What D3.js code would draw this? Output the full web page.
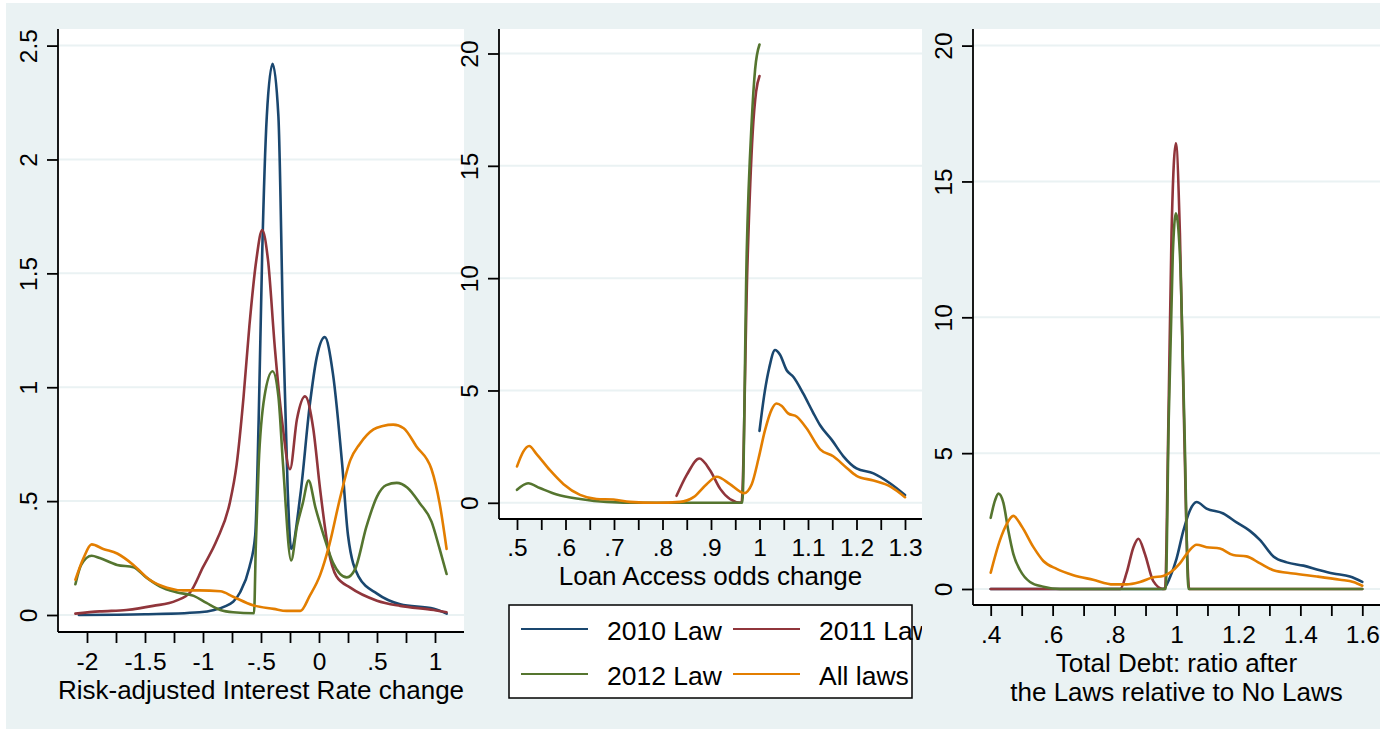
<!DOCTYPE html>
<html>
<head>
<meta charset="utf-8">
<script src="https://cdn.jsdelivr.net/npm/d3@7"></script>
<style>
  body { margin: 0; background: #fff; }
  svg { display: block; }
</style>
</head>
<body>
<script>
// legend / series
const seriesNames = ['2010 Law', '2011 Law', '2012 Law', 'All laws'];
const seriesColors = ['#1a476f', '#90353b', '#55752f', '#e37e00'];

// panel 1 - Risk-adjusted Interest Rate change  [x, density]
const rate2010 = [[-2.07,0],[-1.5,0.003],[-1.03,0.012],[-0.8,0.04],[-0.68,0.10],[-0.6,0.21],[-0.55,0.35],[-0.52,0.86],[-0.49,1.58],[-0.45,2.19],[-0.40,2.42],[-0.35,2.19],[-0.31,1.27],[-0.27,0.55],[-0.24,0.29],[-0.16,0.53],[-0.08,0.92],[-0.02,1.13],[0.05,1.22],[0.12,1.06],[0.2,0.66],[0.25,0.35],[0.34,0.17],[0.5,0.094],[0.7,0.047],[0.99,0.027],[1.10,0.006]];
const rate2011 = [[-2.10,0.006],[-1.89,0.016],[-1.66,0.022],[-1.43,0.04],[-1.23,0.063],[-1.11,0.10],[-1.0,0.21],[-0.88,0.33],[-0.77,0.49],[-0.71,0.66],[-0.65,0.96],[-0.6,1.27],[-0.54,1.56],[-0.49,1.69],[-0.44,1.56],[-0.38,1.17],[-0.32,0.86],[-0.25,0.64],[-0.19,0.86],[-0.12,0.96],[-0.05,0.82],[0.01,0.55],[0.08,0.29],[0.15,0.17],[0.27,0.12],[0.5,0.063],[0.7,0.04],[0.99,0.022],[1.1,0.012]];
const rate2012 = [[-2.10,0.135],[-2.05,0.22],[-1.96,0.26],[-1.89,0.25],[-1.74,0.22],[-1.60,0.21],[-1.49,0.165],[-1.37,0.125],[-1.23,0.10],[-1.08,0.084],[-0.97,0.053],[-0.85,0.022],[-0.74,0.012],[-0.56,0.008],[-0.545,0.3],[-0.52,0.66],[-0.47,0.96],[-0.40,1.07],[-0.35,0.96],[-0.31,0.66],[-0.24,0.24],[-0.19,0.39],[-0.14,0.49],[-0.09,0.59],[-0.03,0.47],[0.04,0.35],[0.12,0.23],[0.24,0.165],[0.31,0.20],[0.41,0.39],[0.5,0.52],[0.58,0.57],[0.67,0.58],[0.76,0.56],[0.87,0.49],[0.97,0.41],[1.04,0.29],[1.10,0.18]];
const rateAll = [[-2.10,0.155],[-2.03,0.25],[-1.96,0.31],[-1.86,0.29],[-1.74,0.27],[-1.60,0.22],[-1.46,0.155],[-1.31,0.12],[-1.17,0.108],[-1.03,0.108],[-0.85,0.104],[-0.74,0.08],[-0.57,0.043],[-0.39,0.027],[-0.28,0.018],[-0.16,0.018],[-0.08,0.084],[0.01,0.176],[0.09,0.31],[0.18,0.51],[0.27,0.68],[0.35,0.75],[0.47,0.815],[0.55,0.83],[0.64,0.836],[0.73,0.82],[0.84,0.74],[0.97,0.64],[1.04,0.49],[1.10,0.29]];

// panel 2 - Loan Access odds change
const loan2010 = [[1.0,3.2],[1.011,4.97],[1.02,6.0],[1.032,6.8],[1.042,6.6],[1.056,5.9],[1.07,5.6],[1.09,4.87],[1.11,4.04],[1.125,3.45],[1.149,2.8],[1.173,2.07],[1.2,1.53],[1.235,1.31],[1.269,0.87],[1.3,0.35]];
const loan2011 = [[0.829,0.31],[0.85,1.24],[0.876,1.97],[0.898,1.45],[0.919,0.62],[0.939,0.17],[0.963,0],[0.975,10.5],[0.986,16.5],[0.993,18.3],[1.0,19.0]];
const loan2012 = [[0.5,0.58],[0.523,0.87],[0.547,0.66],[0.582,0.37],[0.63,0.17],[0.685,0.04],[0.754,0],[0.9646,0],[0.9736,11.1],[0.984,17.0],[0.991,19.3],[1.0,20.4]];
const loanAll = [[0.5,1.62],[0.513,2.28],[0.525,2.53],[0.54,2.18],[0.568,1.45],[0.596,0.83],[0.63,0.35],[0.664,0.17],[0.699,0.145],[0.733,0.04],[0.788,0],[0.836,0.04],[0.864,0.25],[0.891,0.83],[0.912,1.16],[0.939,0.83],[0.96,0.5],[0.968,0.43],[0.984,0.83],[0.998,1.97],[1.011,3.2],[1.025,4.15],[1.035,4.42],[1.046,4.31],[1.059,3.98],[1.077,3.83],[1.097,3.32],[1.125,2.38],[1.152,2.07],[1.18,1.55],[1.2,1.2],[1.235,0.99],[1.27,0.72],[1.3,0.25]];

// panel 3 - Total Debt ratio
const debt2010 = [[0.4,0],[0.957,0],[0.979,0.43],[1.0,1.11],[1.022,2.14],[1.044,2.91],[1.065,3.2],[1.097,2.96],[1.151,2.78],[1.194,2.45],[1.237,2.14],[1.27,1.8],[1.313,1.2],[1.356,0.98],[1.41,0.86],[1.463,0.69],[1.506,0.57],[1.56,0.46],[1.6,0.26]];
const debt2011 = [[0.4,0],[0.818,0],[0.839,0.6],[0.861,1.54],[0.877,1.85],[0.898,1.29],[0.925,0.29],[0.957,0],[0.963,0],[0.974,6.3],[0.984,13.1],[0.998,16.4],[1.011,13.1],[1.024,6.3],[1.035,1.1],[1.041,0],[1.6,0]];
const debt2012 = [[0.4,2.62],[0.414,3.26],[0.425,3.51],[0.441,3.17],[0.457,2.14],[0.473,1.29],[0.495,0.69],[0.527,0.26],[0.57,0.086],[0.624,0],[0.965,0],[0.975,6.3],[0.988,12.3],[0.998,13.83],[1.011,12.3],[1.025,6.3],[1.039,0],[1.6,0]];
const debtAll = [[0.4,0.6],[0.43,1.8],[0.452,2.4],[0.473,2.69],[0.5,2.31],[0.538,1.54],[0.57,1.03],[0.613,0.74],[0.667,0.51],[0.731,0.34],[0.796,0.17],[0.839,0.17],[0.882,0.26],[0.925,0.43],[0.957,0.48],[0.979,0.6],[1.011,0.94],[1.038,1.37],[1.065,1.63],[1.097,1.54],[1.14,1.49],[1.183,1.25],[1.226,1.2],[1.27,0.94],[1.313,0.69],[1.377,0.57],[1.453,0.46],[1.528,0.34],[1.571,0.26],[1.6,0.12]];

// ticks and tick labels
const rateXTicks = [-2,-1.75,-1.5,-1.25,-1,-0.75,-0.5,-0.25,0,0.25,0.5,0.75,1];
const rateXLabelAt = [-2,-1.5,-1,-0.5,0,0.5,1];
const rateXLabels = ['-2','-1.5','-1','-.5','0','.5','1'];
const rateYTicks = [0,0.5,1,1.5,2,2.5];
const rateYLabels = ['0','.5','1','1.5','2','2.5'];

const loanXTicks = [0.5,0.55,0.6,0.65,0.7,0.75,0.8,0.85,0.9,0.95,1,1.05,1.1,1.15,1.2,1.25,1.3];
const loanXLabelAt = [0.5,0.6,0.7,0.8,0.9,1,1.1,1.2,1.3];
const loanXLabels = ['.5','.6','.7','.8','.9','1','1.1','1.2','1.3'];
const densYTicks = [0,5,10,15,20];
const densYLabels = ['0','5','10','15','20'];

const debtXTicks = [0.4,0.5,0.6,0.7,0.8,0.9,1,1.1,1.2,1.3,1.4,1.5,1.6];
const debtXLabelAt = [0.4,0.6,0.8,1,1.2,1.4,1.6];
const debtXLabels = ['.4','.6','.8','1','1.2','1.4','1.6'];

const W = 1394, H = 730;
const bg = '#eaf2f3';
const grid = '#eaf2f3';
const font = "'Liberation Sans', Arial, Helvetica, sans-serif";
const tickFont = 24.5;
const titleFont = 26;
const legendFont = 26.5;

const svg = d3.select('body').append('svg')
  .attr('width', W)
  .attr('height', H)
  .attr('font-family', font);

svg.append('rect').attr('width', W).attr('height', H).attr('fill', '#fff');

// tickBase / titleBase: baselines below the x axis line
const panels = [
  {
    region: [6, 464], left: 58, right: 464, top: 29, bottom: 632,
    xDomain: [-2, 1], xRange: [87, 435], yDomain: [0, 2.5], yRange: [615, 45.6],
    xTicks: rateXTicks, xLabelAt: rateXLabelAt, xLabels: rateXLabels,
    yTicks: rateYTicks, yLabels: rateYLabels,
    series: [rate2010, rate2011, rate2012, rateAll],
    title: ['Risk-adjusted Interest Rate change'],
    tickBase: 38, titleBase: [67]
  },
  {
    region: [464, 922], left: 499, right: 922, top: 29, bottom: 519,
    xDomain: [0.5, 1.3], xRange: [517, 905], yDomain: [0, 20], yRange: [502.8, 53.5],
    xTicks: loanXTicks, xLabelAt: loanXLabelAt, xLabels: loanXLabels,
    yTicks: densYTicks, yLabels: densYLabels,
    series: [loan2010, loan2011, loan2012, loanAll],
    title: ['Loan Access odds change'],
    tickBase: 37, titleBase: [66],
    legend: true
  },
  {
    region: [922, 1380], left: 973, right: 1380, top: 29, bottom: 605,
    xDomain: [0.4, 1.6], xRange: [990.7, 1362.3], yDomain: [0, 20], yRange: [589, 45.6],
    xTicks: debtXTicks, xLabelAt: debtXLabelAt, xLabels: debtXLabels,
    yTicks: densYTicks, yLabels: densYLabels,
    series: [debt2010, debt2011, debt2012, debtAll],
    title: ['Total Debt: ratio after', 'the Laws relative to No Laws'],
    tickBase: 38, titleBase: [67, 96.3]
  }
];

function drawPanel(p) {
  const g = svg.append('g');

  // graph region + plot region
  g.append('rect')
    .attr('x', p.region[0]).attr('y', 3)
    .attr('width', p.region[1] - p.region[0]).attr('height', 726)
    .attr('fill', bg);
  g.append('rect')
    .attr('x', p.left).attr('y', p.top)
    .attr('width', p.right - p.left).attr('height', p.bottom - p.top)
    .attr('fill', '#fff');

  const x = d3.scaleLinear().domain(p.xDomain).range(p.xRange);
  const y = d3.scaleLinear().domain(p.yDomain).range(p.yRange);

  // gridlines
  g.selectAll(null)
    .data(p.yTicks)
    .enter()
    .append('line')
    .attr('x1', p.left).attr('x2', p.right)
    .attr('y1', d => y(d)).attr('y2', d => y(d))
    .attr('stroke', grid)
    .attr('stroke-width', 2);

  // density curves
  const line = d3.line()
    .x(d => x(d[0]))
    .y(d => y(d[1]))
    .curve(d3.curveMonotoneX);

  p.series.forEach((s, i) => {
    g.append('path')
      .datum(s)
      .attr('d', line)
      .attr('fill', 'none')
      .attr('stroke', seriesColors[i])
      .attr('stroke-width', 2.6)
      .attr('stroke-linejoin', 'round')
      .attr('stroke-linecap', 'round');
  });

  // x axis
  const xAxis = d3.axisBottom(x)
    .tickValues(p.xTicks)
    .tickSize(11)
    .tickSizeOuter(0)
    .tickFormat(d => {
      const k = p.xLabelAt.findIndex(v => Math.abs(v - d) < 1e-9);
      return k < 0 ? '' : p.xLabels[k];
    });

  const gx = g.append('g')
    .attr('transform', `translate(0,${p.bottom})`)
    .call(xAxis);
  gx.select('.domain').remove();
  gx.attr('font-size', null).attr('font-family', null);
  gx.selectAll('line').attr('stroke', '#000').attr('stroke-width', 1.8);
  gx.selectAll('text')
    .attr('font-size', tickFont)
    .attr('fill', '#000')
    .attr('y', p.tickBase)
    .attr('dy', null);
  g.append('line')
    .attr('x1', p.left).attr('x2', p.right)
    .attr('y1', p.bottom).attr('y2', p.bottom)
    .attr('stroke', '#000').attr('stroke-width', 1.8);

  // y axis, rotated labels
  const yAxis = d3.axisLeft(y)
    .tickValues(p.yTicks)
    .tickSize(11)
    .tickSizeOuter(0)
    .tickFormat((d, i) => p.yLabels[i]);

  const gy = g.append('g')
    .attr('transform', `translate(${p.left},0)`)
    .call(yAxis);
  gy.select('.domain').remove();
  gy.attr('font-size', null).attr('font-family', null);
  gy.selectAll('line').attr('stroke', '#000').attr('stroke-width', 1.8);
  gy.selectAll('text')
    .attr('font-size', tickFont)
    .attr('fill', '#000')
    .attr('x', 0)
    .attr('y', -21)
    .attr('dy', null)
    .attr('text-anchor', 'middle')
    .attr('transform', 'rotate(-90)');
  g.append('line')
    .attr('x1', p.left).attr('x2', p.left)
    .attr('y1', p.top).attr('y2', p.bottom)
    .attr('stroke', '#000').attr('stroke-width', 1.8);

  // x title
  const cx = (p.left + p.right) / 2;
  p.title.forEach((t, i) => {
    g.append('text')
      .attr('x', cx)
      .attr('y', p.bottom + p.titleBase[i])
      .attr('text-anchor', 'middle')
      .attr('font-size', titleFont)
      .attr('fill', '#000')
      .text(t);
  });

  if (p.legend) drawLegend(g);
}

function drawLegend(g) {
  const box = { x: 509, y: 605, w: 403, h: 93 };
  g.append('rect')
    .attr('x', box.x).attr('y', box.y)
    .attr('width', box.w).attr('height', box.h)
    .attr('fill', '#fff')
    .attr('stroke', '#000')
    .attr('stroke-width', 1.5);

  const colX = [521, 733];
  const rowY = [629, 674];
  seriesNames.forEach((name, i) => {
    const cx = colX[i % 2];
    const cy = rowY[Math.floor(i / 2)];
    g.append('line')
      .attr('x1', cx).attr('x2', cx + 67)
      .attr('y1', cy).attr('y2', cy)
      .attr('stroke', seriesColors[i])
      .attr('stroke-width', 2);
    g.append('text')
      .attr('x', cx + 86)
      .attr('y', cy + 11)
      .attr('font-size', legendFont)
      .attr('fill', '#000')
      .text(name);
  });
}

panels.forEach(drawPanel);
</script>
</body>
</html>
